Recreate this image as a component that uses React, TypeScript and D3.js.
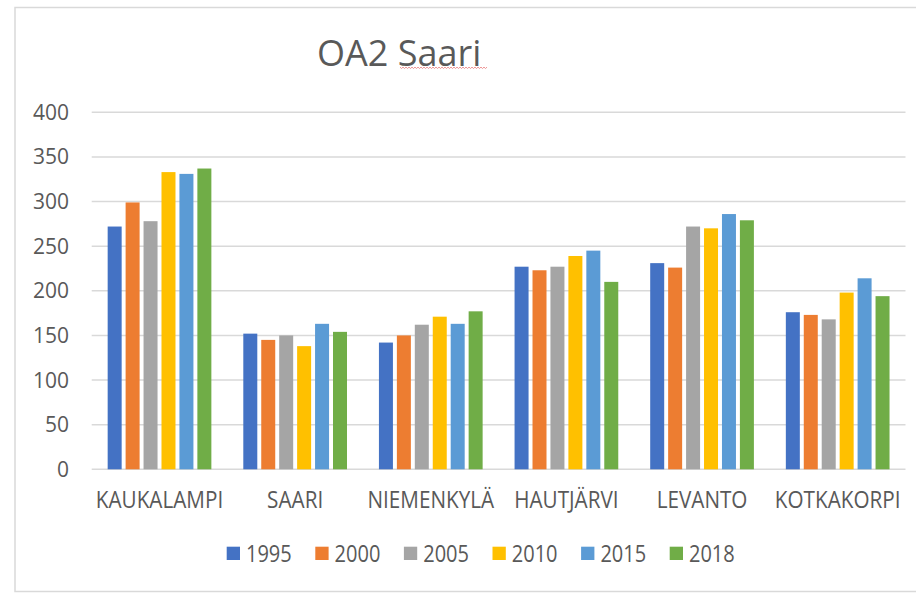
import React from "react";
import * as d3 from "d3";

const categories = ["KAUKALAMPI", "SAARI", "NIEMENKYLÄ", "HAUTJÄRVI", "LEVANTO", "KOTKAKORPI"];
const years = ["1995", "2000", "2005", "2010", "2015", "2018"];
const values1995 = [272, 152, 142, 227, 231, 176];
const values2000 = [299, 145, 150, 223, 226, 173];
const values2005 = [278, 150, 162, 227, 272, 168];
const values2010 = [333, 138, 171, 239, 270, 198];
const values2015 = [331, 163, 163, 245, 286, 214];
const values2018 = [337, 154, 177, 210, 279, 194];
const yTicks = [0, 50, 100, 150, 200, 250, 300, 350, 400];
const colors = ["#4472C4", "#ED7D31", "#A5A5A5", "#FFC000", "#5B9BD5", "#70AD47"];
const title = "OA2 Saari";

const series = [values1995, values2000, values2005, values2010, values2015, values2018];

const W = 916;
const H = 593;
const FONT = "'Open Sans', 'Noto Sans', sans-serif";
const TEXT = "#595959";

export default function App() {
  const plotLeft = 91.7;
  const plotRight = 905.5;
  const y = d3.scaleLinear().domain([0, 400]).range([469.3, 112.3]);
  const x0 = d3.scaleBand<string>().domain(categories).range([plotLeft, plotRight]).padding(0);
  const x1 = d3
    .scaleBand<string>()
    .domain(years)
    .range([0, x0.bandwidth()])
    .paddingInner(0.22)
    .paddingOuter(0.89);

  const legendStart = 226.7;
  const legendStep = 88.6;

  // squiggle under "Saari"
  const sq: string[] = [];
  for (let xx = 400, k = 0; xx <= 487; xx += 1.5, k++) {
    sq.push(`${k === 0 ? "M" : "L"}${xx},${67.8 + (k % 2 === 0 ? -0.7 : 0.7)}`);
  }

  return (
    <svg
      width={W}
      height={H}
      style={{ position: "absolute", left: 0, top: 0, background: "#fff" }}
      xmlns="http://www.w3.org/2000/svg"
    >
      <rect x={0} y={0} width={W} height={H} fill="#fff" />
      {/* chart frame */}
      <path d={`M${W + 5},7.5 L15,7.5 L15,591.5 L${W + 5},591.5`} fill="none" stroke="#d9d9d9" strokeWidth={1.5} />

      {/* title */}
      <text x={317} y={66} fontFamily={FONT} fontSize={36} fill={TEXT}>
        {title}
      </text>
      <path d={sq.join(" ")} fill="none" stroke="#e87878" strokeWidth={0.8} />

      {/* gridlines */}
      {yTicks.map((t) => (
        <line
          key={"g" + t}
          x1={plotLeft}
          x2={plotRight}
          y1={y(t)}
          y2={y(t)}
          stroke="#d9d9d9"
          strokeWidth={1.5}
        />
      ))}
      {/* y labels */}
      {yTicks.map((t) => (
        <text
          key={"yl" + t}
          x={69}
          y={y(t) + 7.5}
          textAnchor="end"
          fontFamily={FONT}
          fontSize={21}
          fill={TEXT}
        >
          {t}
        </text>
      ))}

      {/* bars */}
      {categories.map((c, ci) => (
        <g key={c} transform={`translate(${x0(c)},0)`}>
          {years.map((yr, si) => {
            const v = series[si][ci];
            return (
              <rect
                key={yr}
                x={x1(yr)}
                y={y(v)}
                width={x1.bandwidth()}
                height={y(0) - y(v)}
                fill={colors[si]}
              />
            );
          })}
        </g>
      ))}

      {/* x labels */}
      {categories.map((c) => {
        const cx = (x0(c) as number) + x0.bandwidth() / 2;
        return (
          <text
            key={"xl" + c}
            transform={`translate(${cx},508.3) scale(0.9,1)`}
            textAnchor="middle"
            fontFamily={FONT}
            fontSize={23}
            fill={TEXT}
          >
            {c}
          </text>
        );
      })}

      {/* legend */}
      {years.map((yr, i) => {
        const lx = legendStart + i * legendStep;
        return (
          <g key={"lg" + yr}>
            <rect x={lx} y={546.7} width={13.3} height={13.3} fill={colors[i]} />
            <text
              transform={`translate(${lx + 19.3},561.7) scale(0.87,1)`}
              fontFamily={FONT}
              fontSize={23}
              fill={TEXT}
            >
              {yr}
            </text>
          </g>
        );
      })}
    </svg>
  );
}
